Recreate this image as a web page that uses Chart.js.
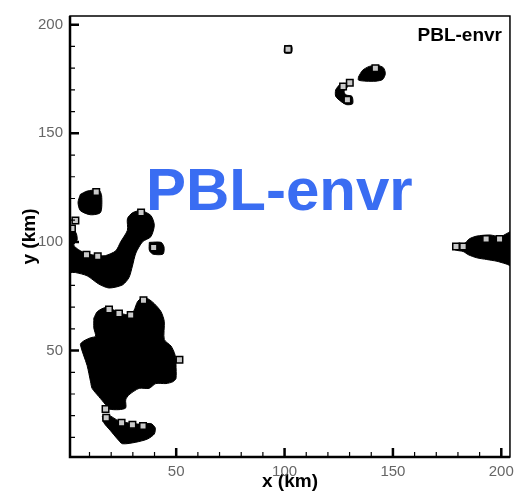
<!DOCTYPE html>
<html>
<head>
<meta charset="utf-8">
<script src="https://cdn.jsdelivr.net/npm/chart.js@4.4.0/dist/chart.umd.min.js"></script>
<style>
  html, body { margin: 0; padding: 0; background: #fff; }
  #wrap { width: 520px; height: 501px; position: relative; }
</style>
</head>
<body>
<div id="wrap"><canvas id="cloudChart"></canvas></div>
<script>
// axis ticks (km)
const tickValues = [10, 20, 30, 40, 50, 60, 70, 80, 90, 100, 110, 120, 130, 140, 150, 160, 170, 180, 190, 200];
const labeledTicks = [50, 100, 150, 200];

// cloud regions, [x km, y km] outlines
const blobLeftTop = [[5.8,121.9],[8.9,123.4],[14.3,123.9],[15.6,121.2],[15.1,113.6],[10.5,112.5],[5.8,114.4],[4.7,118.2]];
const blobLeftMid = [[-2,105.4],[3.5,104.6],[4.3,100.9],[2.7,98.6],[5.0,96.4],[8.9,94.5],[14.3,93.7],[17.4,93.7],[22.1,95.9],[24.4,100.1],[27.5,105.4],[27.5,110.7],[29.8,113.4],[33.7,114.4],[38.3,112.2],[39.9,107.7],[38.3,102.4],[34.5,100.1],[31.4,94.9],[29.8,88.9],[28.2,83.6],[25.2,80.2],[19.0,78.8],[14.3,80.6],[8.9,84.4],[3.5,85.9],[-2,86.4]];
const blobSmallMid = [[37.6,99.8],[43.0,99.8],[44.4,97.6],[43.9,94.4],[39.2,94.4],[37.6,96.2]];
const blobLower = [[12.0,64.9],[13.6,67.9],[17.4,69.8],[22.1,68.3],[24.4,67.1],[29.0,66.4],[30.6,68.6],[32.1,72.4],[33.7,73.9],[36.8,73.9],[39.9,71.6],[43.0,67.9],[44.5,63.4],[44.5,55.1],[47.6,52.1],[49.1,49.1],[49.9,46.1],[49.9,43.8],[49.9,37.1],[48.4,35.6],[45.3,34.8],[40.6,34.8],[37.5,32.6],[32.9,32.6],[28.2,29.6],[26.7,27.3],[26.7,23.6],[23.6,22.8],[19.0,23.1],[17.4,25.1],[14.3,28.8],[11.2,32.6],[10.5,35.6],[8.9,43.1],[5.8,52.8],[7.3,54.4],[10.5,55.9],[12.8,56.6],[12.0,60.4]];
const blobBottom = [[15.9,19.8],[18.2,20.6],[23.6,17.6],[29.8,16.4],[34.5,16.1],[38.3,16.4],[40.3,14.5],[39.9,11.6],[36.8,9.3],[31.4,7.8],[25.2,7.1],[22.9,9.3],[19.7,13.1],[16.6,16.8]];
const blobTopDot = [[100.0,190.3],[103.2,190.3],[103.2,187.1],[100.0,187.1]];
const blobTopRight = [[134.1,176.0],[136.0,179.0],[139.1,180.8],[143.0,181.2],[145.6,180.2],[146.5,177.5],[145.3,174.8],[142.2,174.0],[137.6,174.0],[134.1,174.5]];
const blobTopCurl = [[125.2,172.2],[127.5,173.0],[129.0,171.5],[127.5,169.2],[128.3,167.7],[131.1,167.0],[131.4,163.6],[128.6,163.2],[126.0,164.7],[123.6,167.0],[123.6,170.0]];
const blobRight = [[177.8,98.6],[180.1,99.4],[183.2,99.4],[185.2,101.4],[188.7,102.7],[194.8,103.2],[199.5,102.4],[202.6,103.9],[206,105.4],[206,88.9],[201.8,90.0],[198.0,91.1],[193.3,91.9],[188.7,92.7],[184.8,94.1],[182.4,95.6],[178.6,96.4]];

// edge markers (grey squares), [x km, y km]
const edgeMarkers = [[13.1,123.0],[3.5,109.9],[1.9,106.2],[8.6,94.1],[13.8,93.4],[33.8,113.6],[39.6,97.4],
  [19.0,68.9],[23.6,67.1],[29.0,66.4],[34.9,73.1],[51.5,45.8],[17.4,23.1],
  [17.7,19.1],[24.8,16.8],[29.8,15.8],[34.7,15.3],
  [101.6,188.7],[141.9,180.0],[130.1,173.3],[127.0,171.5],[129.0,165.5],
  [179.1,97.9],[182.4,97.9],[193.0,101.4],[199.2,101.4]];

const blobs = [blobLeftTop, blobLeftMid, blobSmallMid, blobLower, blobBottom, blobTopDot, blobTopRight, blobTopCurl, blobRight];

const toPoints = arr => arr.map(p => ({ x: p[0], y: p[1] }));

const datasets = blobs.map(b => ({
  data: toPoints(b.concat([b[0]])),
  showLine: true,
  fill: 'shape',
  backgroundColor: '#000',
  borderColor: '#000',
  borderWidth: 1,
  tension: 0.25,
  pointRadius: 0,
  order: 2
}));
datasets.push({
  data: toPoints(edgeMarkers),
  pointStyle: 'rect',
  pointRadius: 4.6,
  backgroundColor: '#c9c9c9',
  borderColor: '#000',
  borderWidth: 1.5,
  order: 0
});

// frame, inward ticks and labels drawn over the plot
const framePlugin = {
  id: 'frame',
  afterDraw(chart) {
    const { ctx, chartArea: a, scales: { x, y } } = chart;
    ctx.save();
    ctx.strokeStyle = '#000';
    ctx.lineWidth = 1.5;
    ctx.strokeRect(a.left, a.top, a.right - a.left, a.bottom - a.top);
    ctx.lineWidth = 2.5;
    ctx.beginPath();
    ctx.moveTo(a.left, a.top); ctx.lineTo(a.left, a.bottom); ctx.lineTo(a.right, a.bottom);
    ctx.stroke();
    tickValues.forEach(v => {
      const major = labeledTicks.includes(v);
      ctx.lineWidth = major ? 2.5 : 1.2;
      const len = major ? 9 : 5;
      const px = x.getPixelForValue(v);
      const py = y.getPixelForValue(v);
      ctx.beginPath();
      ctx.moveTo(px, a.bottom); ctx.lineTo(px, a.bottom - len);
      ctx.moveTo(a.left, py); ctx.lineTo(a.left + len, py);
      ctx.stroke();
    });
    ctx.fillStyle = '#000';
    ctx.font = 'bold 19px "Liberation Sans", Arial, sans-serif';
    ctx.textAlign = 'right';
    ctx.textBaseline = 'alphabetic';
    ctx.fillText('PBL-envr', a.right - 8, a.top + 25);
    ctx.fillStyle = '#3a6df2';
    ctx.font = 'bold 60px "Liberation Sans", Arial, sans-serif';
    ctx.textAlign = 'left';
    ctx.fillText('PBL-envr', 146, 210);
    ctx.restore();
  }
};

const tickFont = { family: '"Liberation Sans", Arial, sans-serif', size: 15 };
const titleFont = { family: '"Liberation Sans", Arial, sans-serif', size: 19, weight: 'bold' };

new Chart(document.getElementById('cloudChart'), {
  type: 'scatter',
  data: { datasets: datasets },
  options: {
    responsive: true,
    maintainAspectRatio: false,
    animation: false,
    layout: { padding: { top: 6, right: 10, left: 0, bottom: 0 } },
    plugins: { legend: { display: false }, tooltip: { enabled: false } },
    scales: {
      x: {
        type: 'linear', min: 1, max: 204,
        afterBuildTicks: s => { s.ticks = tickValues.map(v => ({ value: v })); },
        afterFit: s => { s.height = 44; },
        grid: { display: false, drawTicks: false },
        border: { display: false },
        ticks: {
          autoSkip: false, maxRotation: 0, padding: 6, color: '#666', font: tickFont,
          callback: v => labeledTicks.includes(v) ? String(v) : ''
        },
        title: { display: true, text: 'x (km)', color: '#000', font: titleFont, padding: { top: 0, bottom: 8 } }
      },
      y: {
        type: 'linear', min: 1, max: 204,
        afterBuildTicks: s => { s.ticks = tickValues.map(v => ({ value: v })); },
        afterFit: s => { s.width = 70; },
        grid: { display: false, drawTicks: false },
        border: { display: false },
        ticks: {
          autoSkip: false, padding: 7, color: '#666', font: tickFont,
          callback: v => labeledTicks.includes(v) ? String(v) : ''
        },
        title: { display: true, text: 'y (km)', color: '#000', font: titleFont, padding: { top: 18, bottom: 0 } }
      }
    }
  },
  plugins: [framePlugin]
});
</script>
</body>
</html>
